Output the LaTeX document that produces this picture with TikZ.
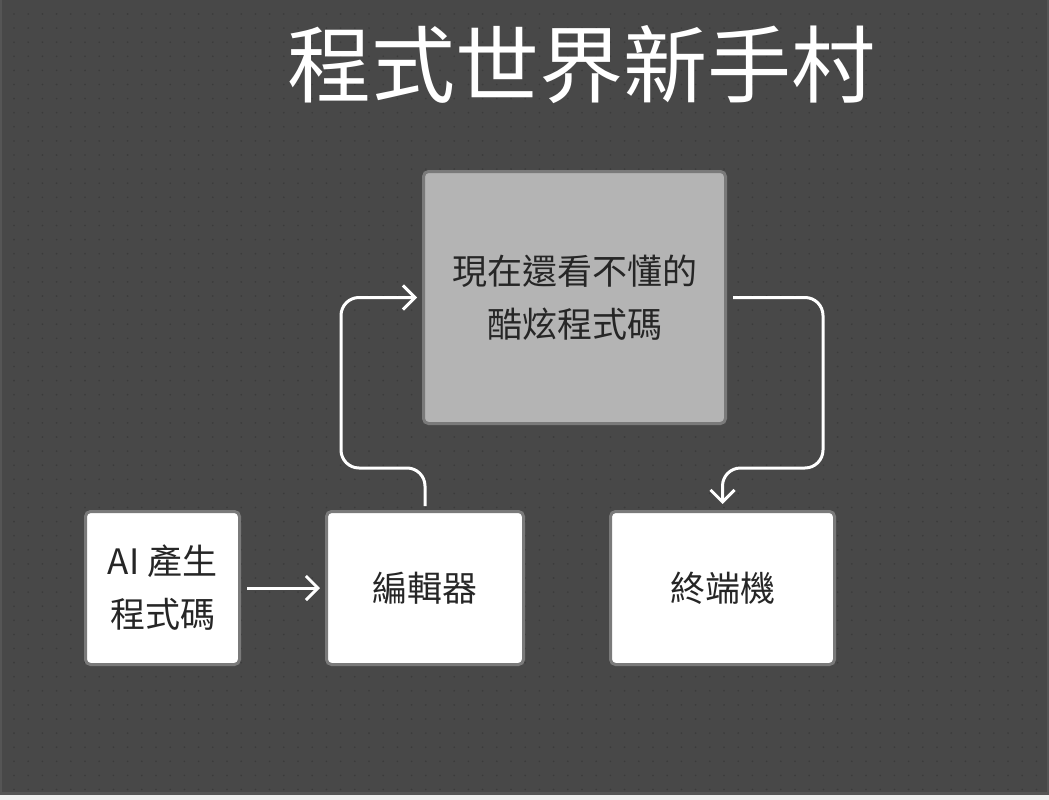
\documentclass[tikz,border=0pt]{standalone}
\usepackage{fontspec}
\setmainfont{Noto Sans CJK TC}
\usetikzlibrary{arrows.meta}
\definecolor{bgdark}{HTML}{484848}
\definecolor{bgedge}{HTML}{555555}
\definecolor{bgdot}{HTML}{3B3B3B}
\definecolor{boxline}{HTML}{7A7A7A}
\definecolor{coolfill}{HTML}{B4B4B4}
\definecolor{inktext}{HTML}{262626}

\begin{document}
\begin{tikzpicture}[x=1pt, y=-1pt,
    box/.style={draw=boxline, line width=3pt, rounded corners=5pt, fill=white,
        text=inktext, align=center, font=\fontsize{35}{53}\selectfont},
    coolbox/.style={box, fill=coolfill, minimum width=302pt, minimum height=252pt},
    flow/.style={draw=white, line width=3pt, rounded corners=18pt,
        -{Straight Barb[length=12pt, width=24pt]}}]
            % background with dotted grid
            \useasboundingbox (0,0) rectangle (1049,800);
            \fill[white!94!black] (0,0) rectangle (1049,800);
            \fill[bgedge] (0,0) rectangle (1049,795);
            \fill[bgdark] (2,0) rectangle (1047,792);
            \foreach \i in {0,...,72}
                \foreach \j in {0,...,55}
                    \fill[bgdot] (14+14.2*\i, 14+14.1*\j) circle (0.9);
            % title
            \node[text=white, font=\fontsize{84}{84}\selectfont] (title) at (581,65) {程式世界新手村};
            % boxes
            \node[coolbox] (cool) at (574.5,297.5) {現在還看不懂的\\酷炫程式碼};
            \node[box, minimum width=154pt, minimum height=153pt] (ai) at (162.5,588) {AI 產生\\程式碼};
            \node[box, minimum width=197pt, minimum height=153pt] (editor) at (425,588) {編輯器};
            \node[box, minimum width=224pt, minimum height=153pt] (term) at (722.5,588) {終端機};
            % arrows
            \draw[flow] ([xshift=6pt]ai.east) -- ([xshift=-5pt]editor.west);
            \draw[flow] ([yshift=4pt]editor.north) |- (341,468) |- ([xshift=-5pt]cool.west);
            \draw[flow] ([xshift=6pt]cool.east) -| (823,468) -| ([yshift=6pt]term.north);
        \end{tikzpicture}
\end{document}
